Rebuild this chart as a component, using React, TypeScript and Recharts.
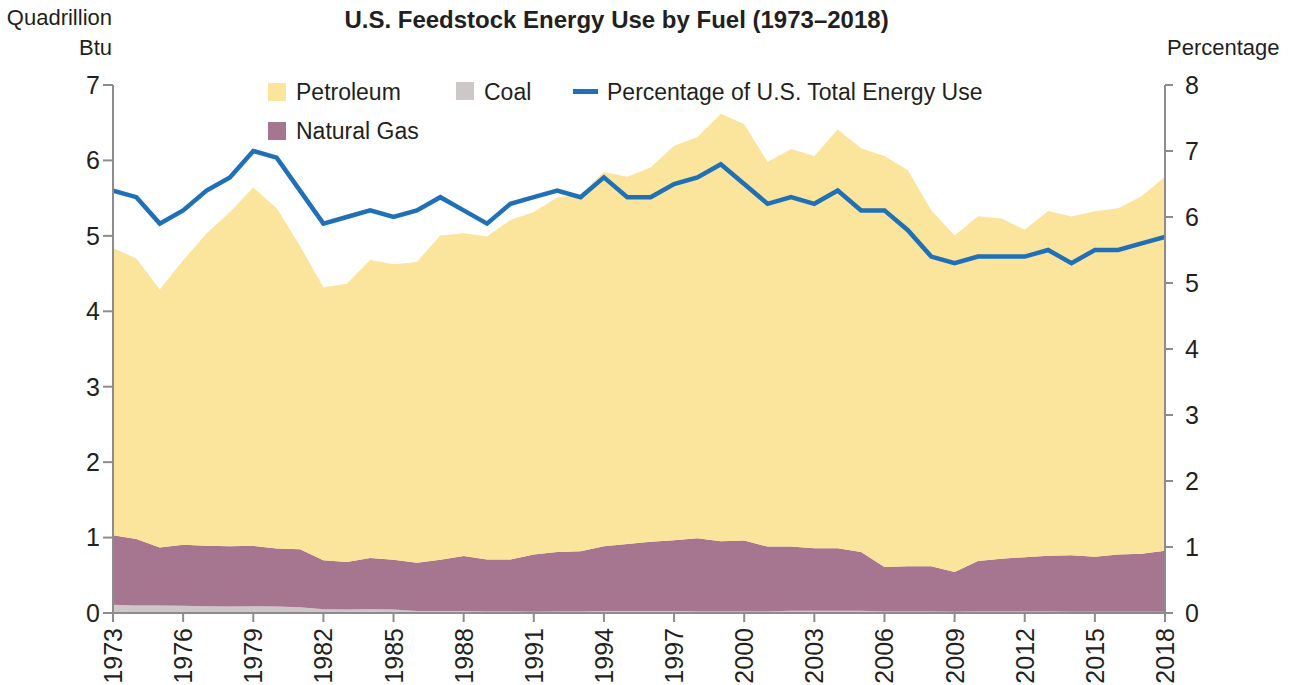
import React from 'react';
import { ComposedChart, Area, Line, XAxis, YAxis } from 'recharts';

const years = [
  1973, 1974, 1975, 1976, 1977, 1978, 1979, 1980, 1981, 1982, 1983, 1984, 1985, 1986, 1987,
  1988, 1989, 1990, 1991, 1992, 1993, 1994, 1995, 1996, 1997, 1998, 1999, 2000, 2001, 2002,
  2003, 2004, 2005, 2006, 2007, 2008, 2009, 2010, 2011, 2012, 2013, 2014, 2015, 2016, 2017, 2018,
];

const coal = [
  0.11, 0.10, 0.10, 0.095, 0.09, 0.085, 0.09, 0.085, 0.075, 0.05, 0.045, 0.05, 0.045, 0.025, 0.025,
  0.025, 0.02, 0.02, 0.015, 0.02, 0.02, 0.025, 0.025, 0.025, 0.025, 0.02, 0.02, 0.02, 0.02, 0.03,
  0.03, 0.03, 0.03, 0.02, 0.02, 0.02, 0.015, 0.02, 0.02, 0.02, 0.02, 0.015, 0.015, 0.015, 0.015, 0.015,
];

const naturalGas = [
  0.92, 0.88, 0.77, 0.81, 0.80, 0.80, 0.80, 0.77, 0.77, 0.65, 0.63, 0.68, 0.66, 0.64, 0.68,
  0.73, 0.69, 0.69, 0.76, 0.79, 0.80, 0.86, 0.89, 0.92, 0.94, 0.97, 0.93, 0.94, 0.86, 0.85,
  0.83, 0.83, 0.78, 0.59, 0.60, 0.60, 0.53, 0.67, 0.70, 0.72, 0.74, 0.75, 0.73, 0.76, 0.77, 0.81,
];

const petroleum = [
  3.81, 3.72, 3.42, 3.77, 4.14, 4.43, 4.75, 4.51, 4.02, 3.62, 3.69, 3.95, 3.92, 3.99, 4.30,
  4.28, 4.28, 4.50, 4.54, 4.70, 4.73, 4.96, 4.87, 4.96, 5.23, 5.32, 5.67, 5.52, 5.10, 5.27,
  5.20, 5.55, 5.35, 5.45, 5.25, 4.72, 4.46, 4.57, 4.51, 4.34, 4.57, 4.49, 4.58, 4.59, 4.74, 4.96,
];

const percentOfTotal = [
  6.4, 6.3, 5.9, 6.1, 6.4, 6.6, 7.0, 6.9, 6.4, 5.9, 6.0, 6.1, 6.0, 6.1, 6.3,
  6.1, 5.9, 6.2, 6.3, 6.4, 6.3, 6.6, 6.3, 6.3, 6.5, 6.6, 6.8, 6.5, 6.2, 6.3,
  6.2, 6.4, 6.1, 6.1, 5.8, 5.4, 5.3, 5.4, 5.4, 5.4, 5.5, 5.3, 5.5, 5.5, 5.6, 5.7,
];

const xTicks = [1973, 1976, 1979, 1982, 1985, 1988, 1991, 1994, 1997, 2000, 2003, 2006, 2009, 2012, 2015, 2018];
const leftTicks = [0, 1, 2, 3, 4, 5, 6, 7];
const rightTicks = [0, 1, 2, 3, 4, 5, 6, 7, 8];

const data = years.map((year, i) => ({
  year,
  coal: coal[i],
  gas: naturalGas[i],
  petroleum: petroleum[i],
  pct: percentOfTotal[i],
}));

const FONT = '"Liberation Sans", Arial, sans-serif';
const TEXT = '#231f20';
const AXIS = '#8c8c8c';
const C_PET = '#fbe49b';
const C_GAS = '#a6758f';
const C_COAL = '#cdc7c8';
const C_LINE = '#1f70b6';

const XTick = (props: any) => {
  const { x, y, payload } = props;
  return (
    <text
      x={x}
      y={y}
      transform={`rotate(-90, ${x}, ${y})`}
      textAnchor="end"
      dominantBaseline="central"
      fontSize={25}
      fontFamily={FONT}
      fill={TEXT}
      dx={-4}
    >
      {payload.value}
    </text>
  );
};

const LegendOverlay = () => {
  const item: React.CSSProperties = {
    position: 'absolute',
    fontSize: 23,
    fontFamily: FONT,
    color: TEXT,
    lineHeight: '26px',
    whiteSpace: 'nowrap',
  };
  const sq = (left: number, top: number, color: string): React.CSSProperties => ({
    position: 'absolute',
    left,
    top,
    width: 18,
    height: 18,
    background: color,
  });
  return (
    <div style={{ position: 'absolute', left: 0, top: 0, width: 1289, height: 685, pointerEvents: 'none' }}>
      <div style={sq(268, 83, C_PET)} />
      <div style={{ ...item, left: 296, top: 79 }}>Petroleum</div>
      <div style={sq(456, 82, C_COAL)} />
      <div style={{ ...item, left: 484, top: 79 }}>Coal</div>
      <div style={{ position: 'absolute', left: 573, top: 89, width: 25, height: 5, background: C_LINE }} />
      <div style={{ ...item, left: 607, top: 79 }}>Percentage of U.S. Total Energy Use</div>
      <div style={sq(268, 122, C_GAS)} />
      <div style={{ ...item, left: 296, top: 118 }}>Natural Gas</div>
    </div>
  );
};

export default function App() {
  return (
    <div style={{ position: 'absolute', left: 0, top: 0, width: 1289, height: 685, background: '#fff', fontFamily: FONT }}>
      <ComposedChart
        width={1289}
        height={685}
        data={data}
        margin={{ top: 85, right: 64, bottom: 0, left: 53 }}
      >
        <XAxis
          dataKey="year"
          type="number"
          domain={[1973, 2018]}
          ticks={xTicks}
          interval={0}
          height={72}
          tick={<XTick />}
          tickSize={9}
          tickLine={{ stroke: AXIS, strokeWidth: 2 }}
          axisLine={{ stroke: AXIS, strokeWidth: 2 }}
          allowDataOverflow
        />
        <YAxis
          yAxisId="left"
          orientation="left"
          domain={[0, 7]}
          ticks={leftTicks}
          width={60}
          tickSize={10}
          tickMargin={3}
          tick={{ fontSize: 25, fill: TEXT, fontFamily: FONT }}
          tickLine={{ stroke: AXIS, strokeWidth: 2 }}
          axisLine={{ stroke: AXIS, strokeWidth: 2 }}
        />
        <YAxis
          yAxisId="right"
          orientation="right"
          domain={[0, 8]}
          ticks={rightTicks}
          width={60}
          tickSize={8}
          tickMargin={12}
          tick={{ fontSize: 25, fill: TEXT, fontFamily: FONT }}
          tickLine={{ stroke: AXIS, strokeWidth: 2 }}
          axisLine={{ stroke: AXIS, strokeWidth: 2 }}
        />
        <Area
          yAxisId="left"
          type="linear"
          dataKey="coal"
          name="Coal"
          stackId="fuel"
          stroke="none"
          fill={C_COAL}
          fillOpacity={1}
          isAnimationActive={false}
        />
        <Area
          yAxisId="left"
          type="linear"
          dataKey="gas"
          name="Natural Gas"
          stackId="fuel"
          stroke="none"
          fill={C_GAS}
          fillOpacity={1}
          isAnimationActive={false}
        />
        <Area
          yAxisId="left"
          type="linear"
          dataKey="petroleum"
          name="Petroleum"
          stackId="fuel"
          stroke="none"
          fill={C_PET}
          fillOpacity={1}
          isAnimationActive={false}
        />
        <Line
          yAxisId="right"
          type="linear"
          dataKey="pct"
          name="Percentage of U.S. Total Energy Use"
          stroke={C_LINE}
          strokeWidth={4.5}
          dot={false}
          activeDot={false}
          isAnimationActive={false}
        />
      </ComposedChart>
      <div
        style={{
          position: 'absolute',
          left: 0,
          width: 1233,
          top: 6,
          textAlign: 'center',
          fontSize: 24,
          fontWeight: 'bold',
          color: TEXT,
          lineHeight: '28px',
          whiteSpace: 'nowrap',
        }}
      >
        U.S. Feedstock Energy Use by Fuel (1973–2018)
      </div>
      <div style={{ position: 'absolute', right: 1289 - 112, top: 5, fontSize: 22, color: TEXT, lineHeight: '26px', textAlign: 'right', whiteSpace: 'nowrap' }}>
        Quadrillion
      </div>
      <div style={{ position: 'absolute', right: 1289 - 112, top: 35, fontSize: 22, color: TEXT, lineHeight: '26px', textAlign: 'right', whiteSpace: 'nowrap' }}>
        Btu
      </div>
      <div style={{ position: 'absolute', left: 1167, top: 35, fontSize: 22, color: TEXT, lineHeight: '26px', whiteSpace: 'nowrap' }}>
        Percentage
      </div>
      <LegendOverlay />
    </div>
  );
}
